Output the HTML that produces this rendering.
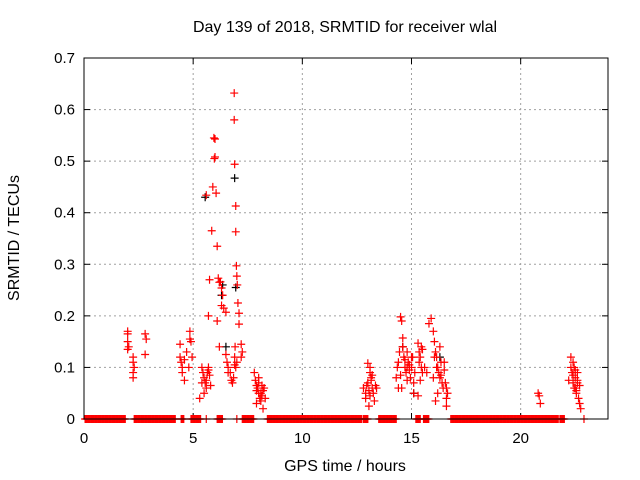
<!DOCTYPE html>
<html><head><meta charset="utf-8"><style>
body{margin:0;background:#fff;}
svg{display:block;font-family:"Liberation Sans",sans-serif;}
</style></head><body>
<svg id="chart" width="640" height="480" viewBox="0 0 640 480">
<text x="345" y="32" text-anchor="middle" font-size="16">Day 139 of 2018, SRMTID for receiver wlal</text>
<text transform="translate(19,238) rotate(-90)" text-anchor="middle" font-size="16">SRMTID / TECUs</text>
<text x="345" y="471" text-anchor="middle" font-size="16">GPS time / hours</text>
<g id="grid"></g><g id="ticks"></g><g id="marks"></g>
<rect x="84" y="58" width="524" height="361" fill="none" stroke="#000" stroke-width="1"/>
</svg>
<script>
const xTicks=[0,5,10,15,20];
const yTicks=[0,0.1,0.2,0.3,0.4,0.5,0.6,0.7];
const yTickLabels=["0","0.1","0.2","0.3","0.4","0.5","0.6","0.7"];
const zeroStart=[0.05,2.3,4.45,4.9,5.6,6.1,7.0,7.25,8.4,12.8,13.5,15.2,15.55,16.8,21.8,22.9];
const zeroEnd=[1.9,4.2,4.6,5.35,5.62,6.35,7.0,7.8,12.75,13.0,14.3,15.4,15.8,21.75,22.0,22.9];
const redT=[2.0,2.0,2.0,2.05,2.0,2.25,2.25,2.3,2.25,2.25,2.8,2.85,2.8,
4.4,4.4,4.45,4.5,4.5,4.6,4.6,4.7,4.85,4.85,4.9,4.95,4.8,
5.3,5.4,5.45,5.5,5.55,5.6,5.7,5.75,5.8,5.5,5.6,5.65,5.7,5.4,
5.6,5.7,5.75,5.85,5.9,5.95,6.0,6.0,5.97,6.05,6.1,6.15,6.2,6.25,6.3,6.35,6.2,6.1,
6.3,6.4,6.5,6.55,6.6,6.7,6.75,6.8,6.85,6.5,6.6,6.9,6.95,7.0,
6.88,6.88,6.9,6.95,6.95,6.98,7.0,7.02,7.05,7.1,7.1,7.2,7.25,7.2,6.9,6.92,
7.8,7.85,7.9,7.95,8.0,8.05,8.1,8.15,8.2,8.25,8.3,7.9,8.0,8.1,8.2,8.0,7.9,8.15,
12.8,12.9,12.95,13.0,13.05,13.1,13.15,13.2,13.25,13.3,13.0,13.1,13.2,12.9,13.05,13.15,13.35,13.4,13.1,
14.3,14.35,14.4,14.45,14.5,14.55,14.6,14.65,14.7,14.75,14.8,14.85,14.9,14.95,15.0,15.05,15.1,15.15,14.5,14.55,14.6,14.7,14.8,14.9,15.0,15.1,14.4,14.6,14.8,
15.3,15.35,15.4,15.45,15.5,15.35,15.4,15.45,15.3,15.5,15.6,15.7,
15.8,15.9,16.0,16.05,16.1,16.15,16.2,16.25,16.3,16.35,16.4,16.45,16.0,16.1,16.2,16.3,16.05,16.15,16.35,16.5,16.55,16.6,16.6,16.65,16.5,16.6,
20.8,20.85,20.9,
22.2,22.3,22.3,22.35,22.4,22.4,22.45,22.5,22.5,22.55,22.6,22.6,22.65,22.7,22.7,22.75,22.4,22.5,22.6,22.55,22.45];
const redV=[0.17,0.165,0.15,0.14,0.135,0.12,0.11,0.1,0.09,0.08,0.165,0.155,0.125,
0.145,0.12,0.11,0.1,0.09,0.075,0.115,0.13,0.17,0.155,0.15,0.12,0.1,
0.04,0.1,0.09,0.08,0.07,0.06,0.1,0.085,0.065,0.05,0.075,0.09,0.095,0.07,
0.434,0.2,0.27,0.365,0.45,0.545,0.543,0.508,0.505,0.438,0.335,0.273,0.265,0.266,0.254,0.24,0.14,0.19,
0.22,0.215,0.207,0.11,0.1,0.09,0.075,0.07,0.08,0.125,0.09,0.105,0.1,0.11,
0.632,0.58,0.494,0.413,0.363,0.297,0.277,0.26,0.225,0.205,0.184,0.145,0.13,0.12,0.12,0.14,
0.09,0.075,0.065,0.06,0.05,0.04,0.035,0.045,0.055,0.06,0.04,0.03,0.07,0.05,0.02,0.08,0.055,0.065,
0.06,0.05,0.065,0.07,0.055,0.045,0.075,0.06,0.05,0.035,0.108,0.09,0.085,0.04,0.025,0.08,0.065,0.06,0.1,
0.08,0.1,0.11,0.13,0.198,0.19,0.157,0.12,0.1,0.09,0.13,0.11,0.095,0.08,0.1,0.12,0.07,0.09,0.085,0.06,0.14,0.115,0.075,0.105,0.12,0.05,0.06,0.14,0.1,
0.147,0.13,0.12,0.1,0.09,0.11,0.075,0.14,0.045,0.135,0.1,0.09,
0.185,0.195,0.17,0.15,0.13,0.12,0.1,0.09,0.08,0.11,0.07,0.06,0.08,0.035,0.05,0.14,0.12,0.1,0.085,0.095,0.07,0.06,0.025,0.05,0.11,0.04,
0.05,0.045,0.03,
0.075,0.12,0.1,0.09,0.085,0.07,0.1,0.08,0.06,0.05,0.09,0.07,0.04,0.065,0.03,0.02,0.11,0.095,0.075,0.055,0.06];
const blackT=[6.9,6.95,6.3,6.35,6.5,5.55,14.6,15.1,16.3];
const blackV=[0.467,0.255,0.24,0.26,0.14,0.43,0.14,0.05,0.12];
const X=t=>84+t*(524/24);
const Y=v=>419-v*(361/0.7);
const NS="http://www.w3.org/2000/svg";
const mk=(g,tag,a)=>{const e=document.createElementNS(NS,tag);for(const k in a)e.setAttribute(k,a[k]);g.appendChild(e);return e;};
const grid=document.getElementById('grid'),ticks=document.getElementById('ticks'),marks=document.getElementById('marks');
xTicks.forEach((t,i)=>{const x=X(t);
 if(i>0){const l=mk(grid,'line',{x1:x,x2:x,y1:58,y2:419,stroke:'#a0a0a0','stroke-dasharray':'2,3'});
 
 }
 mk(ticks,'line',{x1:x,x2:x,y1:419,y2:413,stroke:'#000'});mk(ticks,'line',{x1:x,x2:x,y1:58,y2:64,stroke:'#000'});
 const tx=mk(ticks,'text',{x:x,y:443,'text-anchor':'middle','font-size':'15'});tx.textContent=t;
 
 });
yTicks.forEach((v,i)=>{const y=Y(v);
 if(i>0&&i<yTicks.length-1){const l=mk(grid,'line',{x1:84,x2:608,y1:y,y2:y,stroke:'#a0a0a0','stroke-dasharray':'2,3'});
 
 }
 mk(ticks,'line',{x1:84,x2:90,y1:y,y2:y,stroke:'#000'});mk(ticks,'line',{x1:608,x2:602,y1:y,y2:y,stroke:'#000'});
 const tx=mk(ticks,'text',{x:75,y:y+5,'text-anchor':'end','font-size':'15'});tx.textContent=yTickLabels[i];
 
 });
function plus(t,v,c){const x=X(t),y=Y(v);
 const p=mk(marks,'path',{d:`M${x-4},${y}h8M${x},${y-4}v8`,stroke:c,'stroke-width':'1.2',fill:'none'});
 
 }
zeroStart.forEach((s,i)=>{for(let t=s;t<=zeroEnd[i]+1e-9;t+=0.04)plus(t,0,'#f00');});
blackT.forEach((t,i)=>plus(t,blackV[i],'#000'));
redT.forEach((t,i)=>plus(t,redV[i],'#f00'));
</script>
</body></html>
